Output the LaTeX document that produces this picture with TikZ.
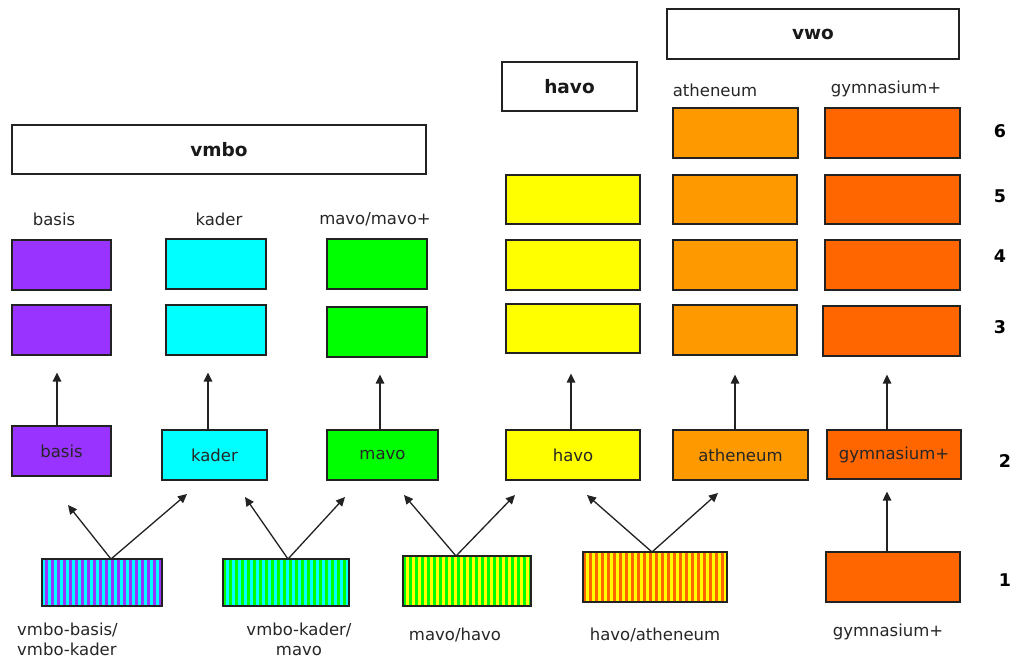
\documentclass[tikz,border=0pt]{standalone}
\usepackage{fontspec}
\setmainfont{DejaVu Sans}
\usetikzlibrary{arrows.meta}
\definecolor{cPurple}{HTML}{9933FF}
\definecolor{cCyan}{HTML}{00FFFF}
\definecolor{cGreen}{HTML}{00FF00}
\definecolor{cYellow}{HTML}{FFFF00}
\definecolor{cOrange}{HTML}{FF9900}
\definecolor{cRed}{HTML}{FF6600}
\definecolor{cLine}{HTML}{222222}
\tikzset{
  bx/.style 2 args={draw=cLine, line width=1.2pt, rectangle, inner sep=0pt,
    minimum width=#1pt, minimum height=#2pt},
  lbl/.style={font=\fontsize{16.5}{20}\selectfont, inner sep=0pt, text=black!85},
  hdr/.style={font=\fontsize{18.5}{22}\selectfont\bfseries, text=black!90},
  num/.style={font=\fontsize{17.5}{20}\selectfont\bfseries, inner sep=0pt},
  arr/.style={draw=cLine, line width=1.3pt, -{Triangle[length=9pt,width=8.5pt]}},
  stripes/.style 2 args={fill=#1, path picture={
     \foreach \i in {0,...,26}{
       \fill[#2] ([xshift={\i*6pt+3pt}]path picture bounding box.south west) rectangle ++(3pt,60pt);}}},
}
\begin{document}
\begin{tikzpicture}[x=1pt,y=-1pt]
\useasboundingbox[fill=white] (0,0) rectangle (1011,659);

% headers
\node[bx={414}{49}, hdr] (vmbo) at (219,149.5) {vmbo};
\node[bx={135}{49}, hdr] (havoH) at (569.5,86.5) {havo};
\node[bx={292}{50}, hdr] (vwo) at (813,34) {vwo};

% column labels
\node[lbl] (lbasis) at (54,219) {basis};
\node[lbl] (lkader) at (219,219) {kader};
\node[lbl] (lmavo) at (375,219) {mavo/mavo+};
\node[lbl] (lath) at (715,90) {atheneum};
\node[lbl] (lgym) at (886,89) {gymnasium+};

% row 6
\node[bx={125}{50}, fill=cOrange] (a6) at (735.5,133) {};
\node[bx={135}{50}, fill=cRed] (g6) at (892.5,133) {};
% row 5
\node[bx={134}{49}, fill=cYellow] (h5) at (573,199.5) {};
\node[bx={124}{49}, fill=cOrange] (a5) at (735,199.5) {};
\node[bx={135}{49}, fill=cRed] (g5) at (892.5,199.5) {};
% row 4
\node[bx={99}{50}, fill=cPurple] (b4) at (61.5,265) {};
\node[bx={100}{50}, fill=cCyan] (k4) at (216,264) {};
\node[bx={100}{50}, fill=cGreen] (m4) at (377,264) {};
\node[bx={134}{50}, fill=cYellow] (h4) at (573,265) {};
\node[bx={124}{50}, fill=cOrange] (a4) at (735,265) {};
\node[bx={135}{50}, fill=cRed] (g4) at (892.5,265) {};
% row 3
\node[bx={99}{50}, fill=cPurple] (b3) at (61.5,330) {};
\node[bx={100}{50}, fill=cCyan] (k3) at (216,330) {};
\node[bx={100}{50}, fill=cGreen] (m3) at (377,332) {};
\node[bx={134}{49}, fill=cYellow] (h3) at (573,328.5) {};
\node[bx={124}{50}, fill=cOrange] (a3) at (735,330) {};
\node[bx={137}{50}, fill=cRed] (g3) at (891.5,331) {};
% row 2
\node[bx={99}{50}, fill=cPurple, lbl] (b2) at (61.5,451) {\raisebox{-1pt}{basis}};
\node[bx={105}{50}, fill=cCyan, lbl] (k2) at (214.5,455) {kader};
\node[bx={111}{50}, fill=cGreen, lbl] (m2) at (382.5,455) {mavo};
\node[bx={134}{50}, fill=cYellow, lbl] (h2) at (573,455) {\raisebox{-2pt}{havo}};
\node[bx={135}{50}, fill=cOrange, lbl] (a2) at (740.5,455) {\raisebox{-3pt}{atheneum}};
\node[bx={134}{49}, fill=cRed, lbl] (g2) at (894,454.5) {\raisebox{-2pt}{gymnasium+}};
% row 1
\node[bx={120}{47}, stripes={cCyan}{cPurple}] (vb) at (102,582.5) {};
\node[bx={126}{47}, stripes={cGreen}{cCyan}] (kb) at (286,582.5) {};
\node[bx={128}{50}, stripes={cGreen}{cYellow}] (mh) at (467,581) {};
\node[bx={144}{50}, stripes={cRed}{cYellow}] (ha) at (655,577) {};
\node[bx={134}{50}, fill=cRed] (g1) at (893,577) {};

% bottom labels
\node[lbl, align=left, anchor=north west] (tvb) at (17,623) {vmbo-basis/\\vmbo-kader};
\node[lbl, align=center, anchor=north] (tkb) at (299,623) {vmbo-kader/\\mavo};
\node[lbl] (tmh) at (455,635) {mavo/havo};
\node[lbl] (tha) at (655,635) {havo/atheneum};
\node[lbl] (tg1) at (888,632) {gymnasium+};

% year numbers
\node[num] (n6) at (1000,131) {6};
\node[num] (n5) at (1000,196) {5};
\node[num] (n4) at (1000,256) {4};
\node[num] (n3) at (1000,327) {3};
\node[num] (n2) at (1005,461) {2};
\node[num] (n1) at (1005,580) {1};

% vertical arrows row 2 -> row 3
\draw[arr] ([xshift=-4.5pt]b2.north) -- ([xshift=-4.5pt,yshift=-17pt]b3.south);
\draw[arr] ([xshift=-6.5pt]k2.north) -- ([xshift=-8pt,yshift=-17pt]k3.south);
\draw[arr] ([xshift=-2.5pt]m2.north) -- ([xshift=3pt,yshift=-17pt]m3.south);
\draw[arr] ([xshift=-2pt]h2.north) -- ([xshift=-2pt,yshift=-20pt]h3.south);
\draw[arr] ([xshift=-5.5pt]a2.north) -- ([xshift=0pt,yshift=-19pt]a3.south);
\draw[arr] ([xshift=-7pt]g2.north) -- ([xshift=-4.5pt,yshift=-18pt]g3.south);
\draw[arr] ([xshift=-6pt]g1.north) -- ([xshift=-7pt,yshift=-12pt]g2.south);

% diagonal arrows from row 1
\coordinate (vbL) at (68,505);  \coordinate (vbR) at (187,494);
\coordinate (kbL) at (245,497); \coordinate (kbR) at (345,497);
\coordinate (mhL) at (404,495); \coordinate (mhR) at (515,495);
\coordinate (haL) at (587,495); \coordinate (haR) at (718,493);
\coordinate (vbO) at (111,559); \coordinate (kbO) at (288,559);
\coordinate (mhO) at (456,556); \coordinate (haO) at (652,552);
\draw[arr] (vbO) -- (vbL); \draw[arr] (vbO) -- (vbR);
\draw[arr] (kbO) -- (kbL); \draw[arr] (kbO) -- (kbR);
\draw[arr] (mhO) -- (mhL); \draw[arr] (mhO) -- (mhR);
\draw[arr] (haO) -- (haL); \draw[arr] (haO) -- (haR);
\end{tikzpicture}
\end{document}
